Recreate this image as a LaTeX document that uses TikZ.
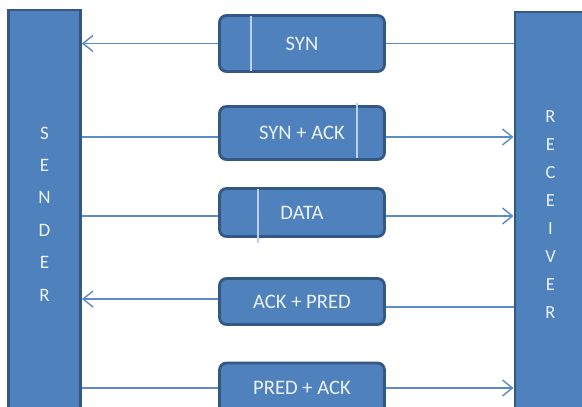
\documentclass[tikz,border=0pt]{standalone}
\usepackage{fontspec}
\setmainfont{Carlito}
\usetikzlibrary{arrows.meta}
\definecolor{boxfill}{RGB}{79,129,189}
\definecolor{boxline}{RGB}{52,88,132}
\definecolor{connc}{RGB}{91,139,201}
\definecolor{txtc}{RGB}{236,242,250}
\definecolor{vlinec}{RGB}{190,208,232}
\tikzset{
  msg/.style={draw=boxline, line width=2.8pt, fill=boxfill, rounded corners=7pt,
    minimum width=165pt, text=txtc, font=\fontsize{20.6}{24}\selectfont, inner sep=0pt},
  side/.style={draw=boxline, line width=2.8pt, fill=boxfill, text=txtc,
    align=center, inner sep=0pt},
  conn/.style={draw=connc, line width=1.4pt},
  tip/.style={-{Straight Barb[length=10pt,width=16pt]}},
  vline/.style={draw=vlinec, line width=1.5pt}
}
\begin{document}
\begin{tikzpicture}[x=1pt,y=-1pt]
\clip (0,0) rectangle (582,407);
\fill[white] (0,0) rectangle (582,407);

\node[side, minimum width=72pt, minimum height=408pt,
      font=\fontsize{19}{32.4}\selectfont] (send) at (44.5,214)
      {S\\E\\N\\D\\E\\R};
\node[side, minimum width=71pt, minimum height=406pt,
      font=\fontsize{18.5}{28}\selectfont] (recv) at (550.5,215)
      {R\\E\\C\\E\\I\\V\\E\\R};

\node[msg, minimum height=56pt] (b1) at (302,43.5) {SYN};
\node[msg, minimum height=53pt] (b2) at (302,133) {SYN + ACK};
\node[msg, minimum height=48pt] (b3) at (302,212.5) {DATA};
\node[msg, minimum height=46pt] (b4) at (302,301.5) {ACK + PRED};
\node[msg, minimum height=50pt] (b5) at (302,388) {PRED + ACK};

\draw[vline] (251,16) -- (251,71);
\draw[vline] (357,103) -- (357,158);
\draw[vline] (258,189) -- (258,243);

% row 1
\draw[conn,tip] (b1.west) -- (b1.west -| send.east);
\draw[conn] (b1.east) -- (b1.east -| recv.west);
% row 2
\draw[conn] ([yshift=-4pt]b2.west) -- ([yshift=-4pt]b2.west -| send.east);
\draw[conn,tip] ([yshift=-4pt]b2.east) -- ([yshift=-4pt]b2.east -| recv.west);
% row 3
\draw[conn] ([yshift=-3.5pt]b3.west) -- ([yshift=-3.5pt]b3.west -| send.east);
\draw[conn,tip] ([yshift=-3.5pt]b3.east) -- ([yshift=-3.5pt]b3.east -| recv.west);
% row 4
\draw[conn,tip] ([yshift=2.5pt]b4.west) -- ([yshift=2.5pt]b4.west -| send.east);
\draw[conn] ([yshift=-5.5pt]b4.east) -- ([yshift=-5.5pt]b4.east -| recv.west);
% row 5
\draw[conn] (b5.west) -- (b5.west -| send.east);
\draw[conn,tip] (b5.east) -- (b5.east -| recv.west);
\end{tikzpicture}
\end{document}
